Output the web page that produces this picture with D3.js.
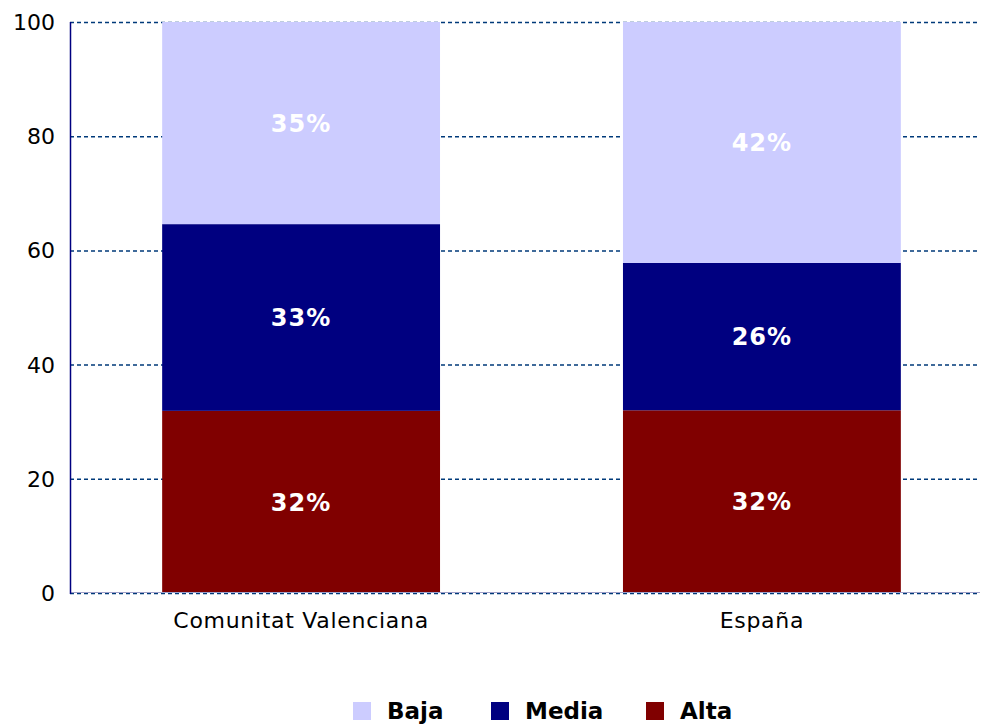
<!DOCTYPE html>
<html>
<head>
<meta charset="utf-8">
<script src="https://cdn.jsdelivr.net/npm/d3@7"></script>
<style>
  body { margin: 0; background: #fff; }
  svg text { font-family: Verdana, "DejaVu Sans", sans-serif; }
</style>
</head>
<body>
<div id="chart"></div>
<script>
// data
var categories = ['Comunitat Valenciana', 'España'];
var seriesNames = ['Alta', 'Media', 'Baja'];
var alta = [31.9, 32.0];
var media = [32.7, 25.8];
var baja = [35.4, 42.2];
var labels = {
  Alta: ['32%', '32%'],
  Media: ['33%', '26%'],
  Baja: ['35%', '42%']
};
var yTicks = [0, 20, 40, 60, 80, 100];
var legendOrder = ['Baja', 'Media', 'Alta'];

var colors = { Baja: '#ccccff', Media: '#000080', Alta: '#800000' };

var attrs = {
  svgWidth: 983,
  svgHeight: 727,
  marginTop: 22,
  marginLeft: 70,
  marginRight: 3,
  marginBottom: 134
};

var calc = {};
calc.chartWidth = attrs.svgWidth - attrs.marginLeft - attrs.marginRight;
calc.chartHeight = attrs.svgHeight - attrs.marginTop - attrs.marginBottom;

var svg = d3.select('#chart').append('svg')
  .attr('width', attrs.svgWidth)
  .attr('height', attrs.svgHeight);

var chart = svg.append('g')
  .attr('transform', 'translate(' + attrs.marginLeft + ',' + attrs.marginTop + ')');

var rows = categories.map(function (c, i) {
  return { cat: c, Alta: alta[i], Media: media[i], Baja: baja[i], i: i };
});

var xScale = d3.scaleBand()
  .domain(categories)
  .range([0, calc.chartWidth + 13])
  .paddingInner(0.397)
  .paddingOuter(0.2);

var yScale = d3.scaleLinear()
  .domain([0, 100])
  .range([calc.chartHeight, 0]);

// gridlines
chart.append('g').selectAll('line')
  .data(yTicks)
  .enter().append('line')
  .attr('x1', 0)
  .attr('x2', calc.chartWidth)
  .attr('y1', function (d) { return yScale(d) + 0.5; })
  .attr('y2', function (d) { return yScale(d) + 0.5; })
  .attr('stroke', '#003a7a')
  .attr('stroke-width', 1.5)
  .attr('stroke-dasharray', '4,3');

// stacked bars
var stack = d3.stack().keys(seriesNames)(rows);

var layers = chart.selectAll('.layer')
  .data(stack)
  .enter().append('g')
  .attr('class', 'layer')
  .attr('fill', function (d) { return colors[d.key]; });

layers.selectAll('rect')
  .data(function (d) { return d; })
  .enter().append('rect')
  .attr('x', function (d) { return xScale(d.data.cat); })
  .attr('width', xScale.bandwidth())
  .attr('y', function (d) { return yScale(d[1]); })
  .attr('height', function (d) { return yScale(d[0]) - yScale(d[1]); });

layers.selectAll('text')
  .data(function (d) { return d.map(function (p) { p.key = d.key; return p; }); })
  .enter().append('text')
  .attr('x', function (d) { return xScale(d.data.cat) + xScale.bandwidth() / 2; })
  .attr('y', function (d) { return (yScale(d[0]) + yScale(d[1])) / 2; })
  .attr('dy', '0.36em')
  .attr('text-anchor', 'middle')
  .attr('fill', '#ffffff')
  .attr('font-weight', 'bold')
  .attr('font-size', '24px')
  .attr('letter-spacing', '1px')
  .text(function (d) { return labels[d.key][d.data.i]; });

// axes lines
chart.append('line')
  .attr('x1', 0).attr('x2', calc.chartWidth)
  .attr('y1', calc.chartHeight - 0.5).attr('y2', calc.chartHeight - 0.5)
  .attr('stroke', '#a0a0c8').attr('stroke-width', 1);

chart.append('line')
  .attr('x1', 0.5).attr('x2', 0.5)
  .attr('y1', 0).attr('y2', calc.chartHeight + 1)
  .attr('stroke', '#000080').attr('stroke-width', 1.5);

// y labels
chart.append('g').selectAll('text')
  .data(yTicks)
  .enter().append('text')
  .attr('x', -15)
  .attr('y', function (d) { return yScale(d); })
  .attr('dy', '0.36em')
  .attr('text-anchor', 'end')
  .attr('font-size', '22px')
  .attr('fill', '#000')
  .text(function (d) { return d; });

// x labels
chart.append('g').selectAll('text')
  .data(categories)
  .enter().append('text')
  .attr('x', function (d) { return xScale(d) + xScale.bandwidth() / 2; })
  .attr('y', calc.chartHeight + 35)
  .attr('text-anchor', 'middle')
  .attr('font-size', '22px')
  .attr('letter-spacing', '0.7px')
  .attr('fill', '#000')
  .text(function (d) { return d; });

// legend
var legendX = [353, 491, 646];
var legend = svg.append('g').selectAll('g')
  .data(legendOrder)
  .enter().append('g')
  .attr('transform', function (d, i) { return 'translate(' + legendX[i] + ',702)'; });

legend.append('rect')
  .attr('width', 18).attr('height', 18)
  .attr('fill', function (d) { return colors[d]; });

legend.append('text')
  .attr('x', 34)
  .attr('y', 9)
  .attr('dy', '0.36em')
  .attr('font-size', '23px')
  .attr('font-weight', 'bold')
  .attr('fill', '#000')
  .text(function (d) { return d; });
</script>
</body>
</html>
